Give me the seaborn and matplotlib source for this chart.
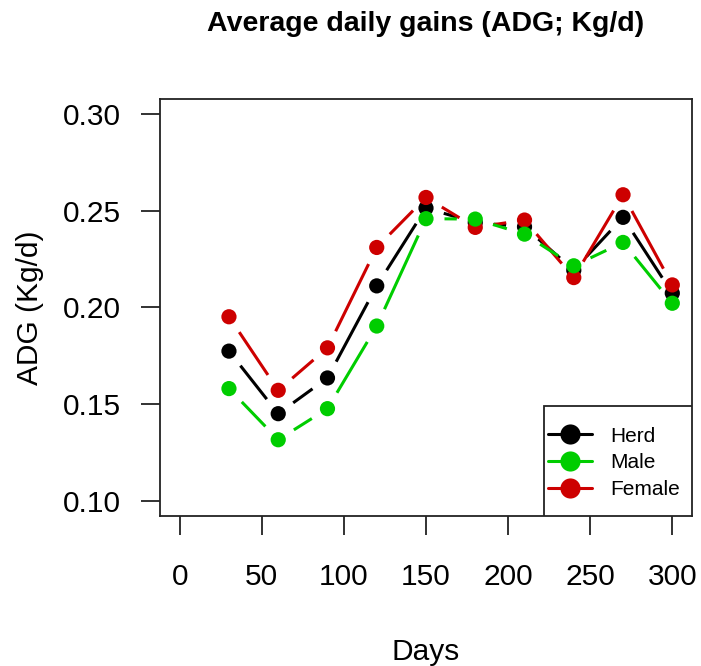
import numpy as np
import pandas as pd
import matplotlib
matplotlib.use("Agg")
import matplotlib.pyplot as plt
from matplotlib.lines import Line2D
from matplotlib.patches import Rectangle
import seaborn as sns

days = [30, 60, 90, 120, 150, 180, 210, 240, 270, 300]
herd = [0.1774, 0.1450, 0.1635, 0.2112, 0.2515, 0.2440, 0.2418, 0.2193, 0.2467, 0.2074]
male = [0.1580, 0.1315, 0.1476, 0.1904, 0.2460, 0.2458, 0.2380, 0.2216, 0.2337, 0.2022]
female = [0.1952, 0.1571, 0.1791, 0.2311, 0.2570, 0.2415, 0.2453, 0.2155, 0.2584, 0.2117]

groups = ["Herd", "Male", "Female"]
draw_order = ["Herd", "Female", "Male"]
colors = {"Herd": "black", "Male": "#00CD00", "Female": "#CD0000"}

series = {"Herd": herd, "Male": male, "Female": female}
df = pd.concat(
    [pd.DataFrame({"Day": days, "ADG": series[g], "Group": g}) for g in draw_order],
    ignore_index=True,
)

sns.set_style("white")
plt.rcParams["font.family"] = ["Liberation Sans", "DejaVu Sans"]
plt.rcParams["text.color"] = "black"
plt.rcParams["axes.labelcolor"] = "black"
plt.rcParams["xtick.color"] = "black"
plt.rcParams["ytick.color"] = "black"

fig = plt.figure(figsize=(7.01, 6.66), dpi=100)
ax = fig.add_axes([160 / 701, 1 - 516 / 666, 532 / 701, 417 / 666])
ax.set_xlim(-12, 312)
ax.set_ylim(0.092, 0.308)

# R type="b": line segments with gaps around each point
gap = 18.5
fig.canvas.draw()
to_px = ax.transData
to_data = ax.transData.inverted()
for g in draw_order:
    sub = df[df["Group"] == g]
    pts = to_px.transform(np.column_stack([sub["Day"], sub["ADG"]]))
    for p0, p1 in zip(pts[:-1], pts[1:]):
        d = p1 - p0
        L = np.hypot(*d)
        if L <= 2 * gap:
            continue
        u = d / L
        seg = to_data.transform(np.array([p0 + u * gap, p1 - u * gap]))
        ax.plot(seg[:, 0], seg[:, 1], color=colors[g], lw=2.2,
                solid_capstyle="butt", zorder=2)

sns.scatterplot(data=df, x="Day", y="ADG", hue="Group", palette=colors,
                s=120, edgecolor="none", linewidth=0, legend=False, ax=ax, zorder=3)

ax.set_xticks([0, 50, 100, 150, 200, 250, 300])
ax.set_yticks([0.10, 0.15, 0.20, 0.25, 0.30])
ax.set_yticklabels(["0.10", "0.15", "0.20", "0.25", "0.30"])
ax.tick_params(axis="both", direction="out", length=14, width=1.3, color="#222222",
               labelsize=21.5, left=True, bottom=True)
ax.tick_params(axis="x", pad=20)
ax.tick_params(axis="y", pad=14)
for sp in ax.spines.values():
    sp.set_color("#222222")
    sp.set_linewidth(1.3)

ax.set_xlabel("Days", fontsize=21.5)
ax.xaxis.set_label_coords(0.5, (516 - 652) / 417)
ax.xaxis.label.set_va("center")
ax.set_ylabel("ADG (Kg/d)", fontsize=21.5)
ax.yaxis.set_label_coords((30 - 160) / 532, 0.5)
ax.yaxis.label.set_va("center")

fig.text(426 / 701, 1 - 24 / 666, "Average daily gains (ADG; Kg/d)",
         fontsize=20.5, fontweight="bold", ha="center", va="center")

# legend box in R style
ax.add_patch(Rectangle(((544 - 160) / 532, 0), (692 - 544) / 532, (516 - 406) / 417,
                       transform=ax.transAxes, facecolor="white", edgecolor="#222222",
                       linewidth=1.3, zorder=4))
handles = [Line2D([0], [0], color=colors[g], lw=2.2, marker="o", markersize=14.5,
                  markeredgewidth=0) for g in groups]
leg = ax.legend(handles, groups, loc="center left",
                bbox_to_anchor=((546 - 160) / 532, (516 - 463) / 417),
                fontsize=15, frameon=False, borderaxespad=0, borderpad=0.1,
                handlelength=2.1, handletextpad=0.9, labelspacing=0.38)
leg.set_zorder(5)

fig.savefig("out.png", dpi=100)
